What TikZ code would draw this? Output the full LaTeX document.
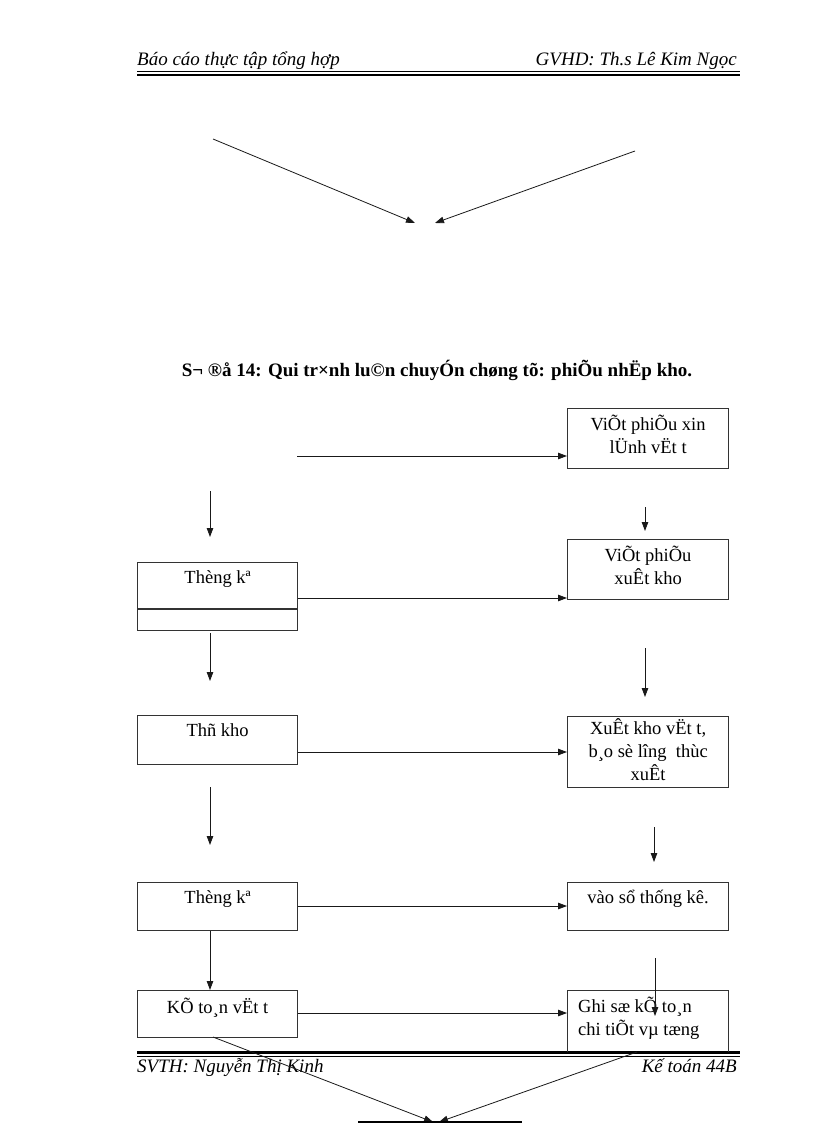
\documentclass[tikz,border=0pt]{standalone}
\usepackage{fontspec}
\setmainfont{Liberation Serif}
\usetikzlibrary{arrows.meta}
\begin{document}
\begin{tikzpicture}[x=1pt,y=-1pt,
  box/.style={draw=black!80,line width=1.2pt,minimum width=160pt,inner sep=0pt,anchor=north west},
  btext/.style={anchor=north,align=center,font=\fontsize{18.5}{23}\selectfont,inner sep=0pt},
  conn/.style={line width=0.8pt,draw=black!90,-{Triangle[length=9pt,width=6.5pt]}},
  hdr/.style={font=\fontsize{19}{22}\selectfont\itshape,inner sep=0pt}]
\useasboundingbox (0,0) rectangle (816,1123);

% header / footer
\node[hdr,anchor=base west] (h1) at (137,66) {Báo cáo thực tập tổng hợp};
\node[hdr,anchor=base east] (h2) at (737,66) {GVHD: Th.s Lê Kim Ngọc};
\draw[line width=0.8pt] (137,71.5) -- (740,71.5);
\draw[line width=2.2pt] (137,75) -- (740,75);
\draw[line width=2.2pt] (137,1052.5) -- (740,1052.5);
\draw[line width=0.8pt] (137,1056.5) -- (740,1056.5);
\node[hdr,anchor=base west] (f1) at (137,1072) {SVTH: Nguyễn Thị Kinh};
\node[hdr,anchor=base east] (f2) at (737,1072) {Kế toán 44B};

% top arrows
\coordinate (ta1) at (213,139);
\coordinate (ta2) at (415,223);
\coordinate (tb1) at (635,151);
\coordinate (tb2) at (435,223);
\draw[conn] (ta1) -- (ta2);
\draw[conn] (tb1) -- (tb2);

% title
\node[font=\fontsize{19}{22}\selectfont\bfseries,inner sep=0pt] (title) at (437,370) {S¬ ®å 14: Qui tr×nh lu©n chuyÓn chøng tõ: phiÕu nhËp kho.};

% right column boxes
\node[box,minimum width=161pt,minimum height=60pt] (r1) at (567,408) {};
\node[btext] (r1t) at ([yshift=-7pt]r1.north) {ViÕt phiÕu xin\\lÜnh vËt t};
\node[box,minimum width=161pt,minimum height=60pt] (r2) at (567,539) {};
\node[btext] (r2t) at ([yshift=-7pt]r2.north) {ViÕt phiÕu\\xuÊt kho};
\node[box,minimum width=161pt,minimum height=71pt] (r3) at (567,716) {};
\node[btext] (r3t) at ([yshift=-2pt]r3.north) {XuÊt kho vËt t,\\b¸o sè lîng\ \ thùc\\xuÊt};
\node[box,minimum width=161pt,minimum height=48pt] (r4) at (567,882) {};
\node[btext] (r4t) at ([yshift=-8pt]r4.north) {vào sổ thống kê.};
\begin{scope}
\clip (560,980) rectangle (740,1051.4);
\node[box,minimum width=161pt,minimum height=70pt] (r5) at (567,990) {};
\end{scope}
\node[btext,anchor=north west,align=left] (r5t) at (578,997) {Ghi sæ kÕ to¸n\\chi tiÕt vµ tæng};

% left column boxes
\node[box,minimum height=68pt] (l1) at (137,562) {};
\draw[line width=1.2pt,draw=black!80] (137,609) -- (297,609);
\node[btext] (l1t) at ([yshift=-8pt]l1.north) {Thèng kª};
\node[box,minimum height=49pt] (l2) at (137,715) {};
\node[btext] (l2t) at ([yshift=-8pt]l2.north) {Thñ kho};
\node[box,minimum height=48pt] (l3) at (137,882) {};
\node[btext] (l3t) at ([yshift=-8pt]l3.north) {Thèng kª};
\node[box,minimum height=47pt] (l4) at (137,990) {};
\node[btext] (l4t) at ([yshift=-8pt]l4.north) {KÕ to¸n vËt t};

% horizontal connectors
\coordinate (s0) at (297,456);
\draw[conn] (s0) -- (r1.west |- s0);
\draw[conn] (l1.east |- 0,598) -- (r2.west |- 0,598);
\draw[conn] (l2.east |- 0,752) -- (r3.west |- 0,752);
\draw[conn] (l3.east |- 0,906) -- (r4.west |- 0,906);
\draw[conn] (l4.east |- 0,1013) -- (r5.west |- 0,1013);

% vertical connectors
\coordinate (v1a) at (210,491); \coordinate (v1b) at (210,537);
\coordinate (v2a) at (210,633); \coordinate (v2b) at (210,681);
\coordinate (v3a) at (210,787); \coordinate (v3b) at (210,845);
\draw[conn] (v1a) -- (v1b);
\draw[conn] (v2a) -- (v2b);
\draw[conn] (v3a) -- (v3b);
\draw[conn] (l3.south -| 210,0) -- (l4.north -| 210,0);
\coordinate (w1a) at (645,507); \coordinate (w1b) at (645,531);
\coordinate (w2a) at (645,648); \coordinate (w2b) at (645,697);
\coordinate (w3a) at (654,827); \coordinate (w3b) at (654,862);
\coordinate (w4a) at (655,958); \coordinate (w4b) at (655,1016);
\draw[conn] (w1a) -- (w1b);
\draw[conn] (w2a) -- (w2b);
\draw[conn] (w3a) -- (w3b);
\draw[conn] (w4a) -- (w4b);

% bottom converging arrows
\coordinate (bt) at (436,1122);
\coordinate (bl) at (213,1037);
\coordinate (br) at (637,1052);
\draw[conn] (bl) -- ([xshift=-3pt]bt);
\draw[conn] (br) -- ([xshift=3pt]bt);
\draw[line width=2pt] (358,1122) -- (522,1122);
\end{tikzpicture}
\end{document}
